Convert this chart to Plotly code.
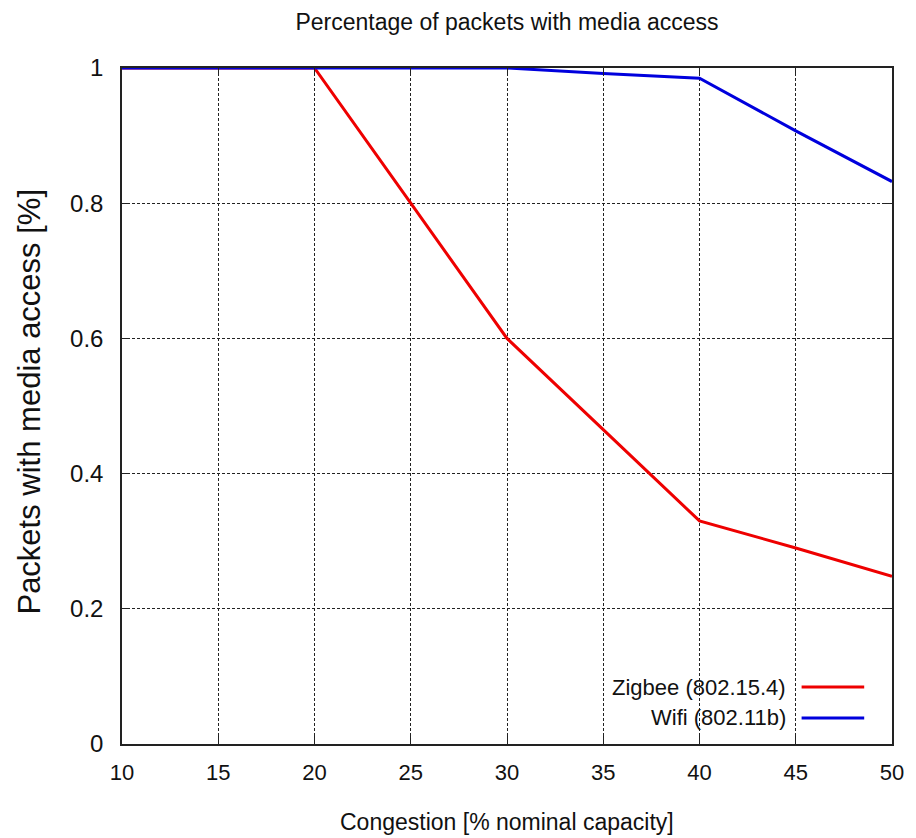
import plotly.graph_objects as go

congestion = [10, 15, 20, 25, 30, 35, 40, 45, 50]
zigbee = [1.0, 1.0, 1.0, 0.8, 0.6, 0.465, 0.33, 0.29, 0.248]
wifi = [1.0, 1.0, 1.0, 1.0, 1.0, 0.992, 0.985, 0.907, 0.832]
series_names = ["Zigbee (802.15.4)", "Wifi (802.11b)"]
series_colors = ["#ee0000", "#0000dd"]
x_ticks = [10, 15, 20, 25, 30, 35, 40, 45, 50]
y_ticks = [0, 0.2, 0.4, 0.6, 0.8, 1]
y_tick_labels = ["0", "0.2", "0.4", "0.6", "0.8", "1"]

FONT = "Liberation Sans, Arial, sans-serif"

fig = go.Figure()
for name, vals, col in zip(series_names, [zigbee, wifi], series_colors):
    fig.add_trace(go.Scatter(x=congestion, y=vals, mode="lines", name=name,
                             line=dict(color=col, width=3), showlegend=False))

axis_common = dict(showline=True, linecolor="#222", linewidth=1.5, mirror="ticks",
                   ticks="inside", ticklen=8, tickcolor="#222",
                   showgrid=True, gridcolor="#222", gridwidth=1, griddash="3px,2px",
                   zeroline=False)

fig.update_xaxes(range=[10, 50], tickvals=x_ticks, ticklabelstandoff=8,
                 tickfont=dict(family=FONT, size=22, color="#111"), **axis_common)
fig.update_yaxes(range=[0, 1], tickvals=y_ticks, ticktext=y_tick_labels, ticklabelstandoff=12,
                 tickfont=dict(family=FONT, size=24, color="#111"), **axis_common)

annotations = [
    dict(text="Congestion [% nominal capacity]", xref="paper", yref="paper", x=0.5, y=-0.1154,
         xanchor="center", yanchor="middle", showarrow=False, font=dict(family=FONT, size=23, color="#111")),
    dict(text="Packets with media access [%]", xref="paper", yref="paper", x=-0.12, y=0.506,
         xanchor="center", yanchor="middle", textangle=-90, showarrow=False,
         font=dict(family=FONT, size=31, color="#111")),
]
shapes = []
leg_y = [0.0843, 0.0385]
for name, col, ly in zip(series_names, series_colors, leg_y):
    annotations.append(dict(text=name, xref="paper", yref="paper", x=0.8645, y=ly,
                            xanchor="right", yanchor="middle", showarrow=False,
                            font=dict(family=FONT, size=22, color="#111")))
    shapes.append(dict(type="line", xref="paper", yref="paper", x0=0.8826, x1=0.9639, y0=ly, y1=ly,
                       line=dict(color=col, width=3)))

fig.update_layout(
    width=908, height=830,
    margin=dict(l=114, r=15, t=60, b=94),
    paper_bgcolor="white", plot_bgcolor="white",
    title=dict(text="Percentage of packets with media access", xref="paper", x=0.5, xanchor="center",
               yref="container", y=1 - 14 / 830, yanchor="middle",
               font=dict(family=FONT, size=23, color="#111")),
    annotations=annotations, shapes=shapes, showlegend=False,
)

fig.write_html("out.html")
